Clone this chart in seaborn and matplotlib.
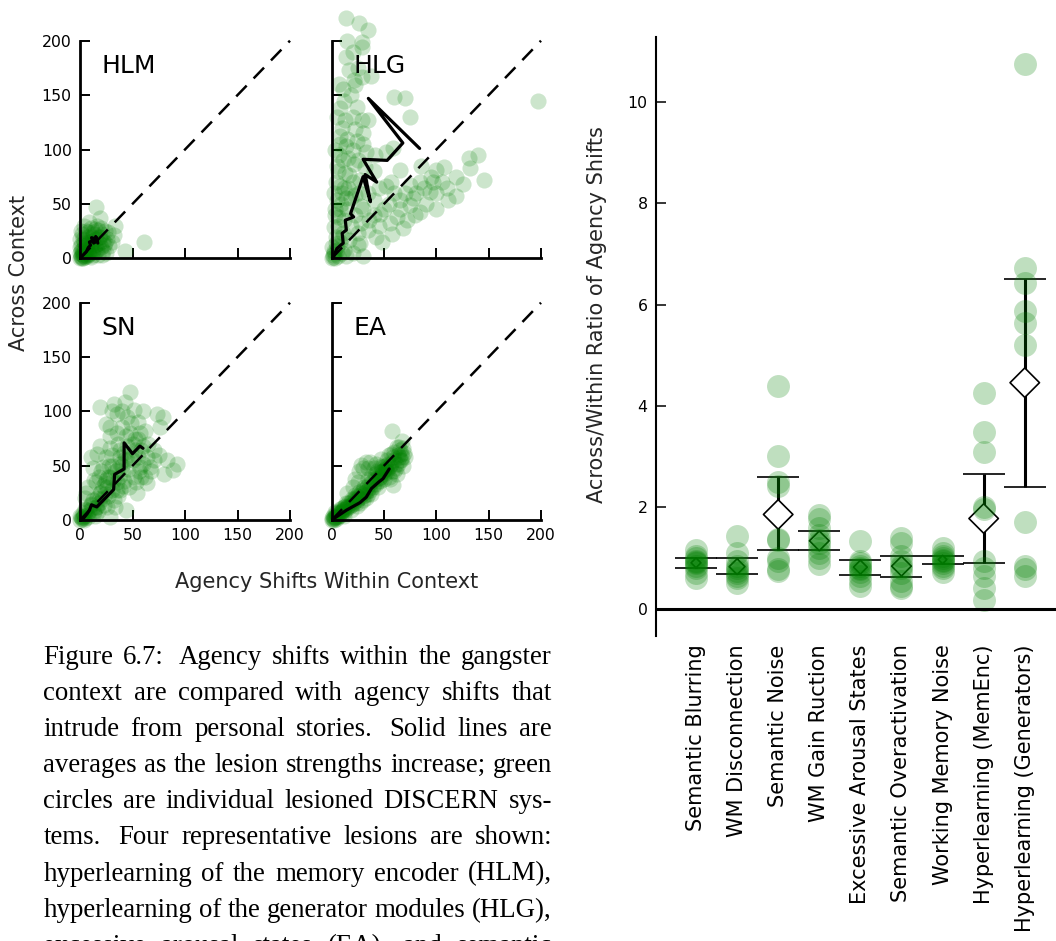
import re
import numpy as np
import pandas as pd
import matplotlib
matplotlib.use("Agg")
import matplotlib.pyplot as plt
import seaborn as sns

# ------------------------------------------------------------------ data
panel_names = ["HLM", "HLG", "SN", "EA"]

hlm_pts = [(0,0),(1,2),(2,0),(0,5),(3,3),(5,1),(2,8),(4,10),(6,6),(8,4),(7,12),(10,8),
           (12,3),(9,15),(11,20),(14,12),(15,18),(13,22),(16,8),(18,14),(20,10),(17,26),
           (22,16),(19,20),(25,5),(24,25),(28,11),(32,21),(33,30),(19,37),(15,47),(43,7),
           (61,15),(3,18),(6,25),(1,12),(10,28),(12,24),(5,14),(8,20),(14,6),(4,30),(2,22),
           (20,28),(26,18),(0,10),(3,0),(7,2),(1,7),(10,1),(21,3),(16,30),(9,33),(23,12),(30,15),
           (1,1),(2,4),(4,2),(3,6),(6,3),(5,8),(8,6),(7,9),(9,4),(11,6),(4,15),(6,12),(10,11),
           (13,9),(12,14),(16,13),(18,20),(8,24),(14,27),(21,22),(24,14),(27,24),(22,7),(17,3),
           (0,18),(1,25),(5,20),(11,16)]
hlm_mean = [(0,0),(3,3),(6,6),(8,10),(10,12),(9,15),(12,16),(11,19),(14,18),(13,14),
            (16,16),(15,20),(17,14)]

hlg_pts = [(14,221),(26,216),(35,210),(29,199),(29,194),(14,185),(17,173),(29,167),(38,168),
           (21,164),(11,156),(22,159),(60,148),(70,147),(197,145),(75,130),(8,138),(24,139),
           (13,127),(29,127),(35,127),(22,119),(30,115),(8,112),(14,103),(59,101),(52,98),
           (41,95),(11,90),(21,87),(32,84),(13,78),(17,77),(27,72),(65,81),(57,70),(75,67),
           (84,70),(100,81),(107,84),(131,92),(132,83),(119,75),(146,72),(97,70),(94,61),
           (111,54),(119,57),(81,60),(65,54),(75,49),(84,43),(52,66),(62,38),(72,35),(56,32),
           (46,41),(40,54),(35,26),(25,23),(8,66),(5,54),(6,38),(2,29),(11,23),(17,17),(27,14),
           (2,5),(6,2),(14,2),(30,2),(5,11),(0,0),(3,0),(1,3),(5,8),(8,15),(10,20),(12,35),
           (15,45),(18,55),(10,60),(20,100),(25,90),(15,110),(30,105),(20,130),(5,85),(40,40),
           (45,30),(50,45),(35,60),(60,60),(70,60),(90,50),(100,60),(110,65),(85,85),(3,45),
           (9,50),(16,65),(22,58),(28,48),(4,20),(12,8),(20,5),(0,10),(7,95),
           (2,60),(4,70),(6,80),(3,100),(8,105),(10,120),(5,130),(12,145),(7,160),(18,150),
           (25,175),(15,200),(20,190),(3,40),(8,45),(14,55),(20,70),(26,60),(30,45),(36,35),
           (42,20),(48,15),(25,12),(18,30),(10,5),(4,14),(1,1),(2,7),(6,30),(12,65),(16,92),
           (24,108),(33,98),(40,80),(45,65),(55,50),(65,45),(78,55),(88,65),(95,75),(105,70),
           (125,68),(140,95),(100,45),(80,40),(58,22),(68,28),(22,40),(28,32)]
hlg_mean = [(0,0),(2,2),(5,9),(11,14),(10,23),(14,26),(13,35),(21,38),(18,41),(30,75),
            (37,52),(32,77),(43,70),(30,91),(53,90),(68,106),(35,147),(84,101)]

sn_pts = [(48,118),(19,104),(32,107),(43,109),(51,101),(35,98),(29,86),(40,86),(49,89),(57,80),
          (73,98),(79,95),(76,86),(19,68),(10,58),(16,61),(29,66),(38,64),(49,61),(60,68),
          (70,64),(83,55),(89,46),(92,52),(67,49),(57,49),(51,40),(64,34),(54,25),(41,31),
          (25,37),(13,37),(6,25),(19,25),(32,18),(44,9),(29,3),(13,6),(3,3),(0,0),(2,2),
          (35,46),(22,49),(38,58),(25,58),(44,77),(29,77),(64,58),(16,12),(10,15),(22,31),
          (35,28),(41,43),(29,40),(2,1),(1,3),(4,4),(5,2),(3,6),(7,5),(6,9),(9,8),(11,11),
          (13,8),(10,14),(15,12),(18,16),(16,20),(21,19),(24,24),(20,26),(26,30),(30,28),
          (35,35),(27,40),(33,45),(38,52),(45,55),(42,62),(50,70),(55,75),(48,80),(36,70),
          (30,60),(58,40),(0,4),(4,0),
          (5,10),(8,3),(12,18),(14,4),(17,8),(19,20),(23,14),(24,34),(27,22),(28,50),(31,36),
          (33,12),(36,22),(37,40),(40,50),(42,36),(43,56),(46,47),(47,30),(50,55),(52,64),
          (53,35),(55,58),(56,45),(60,52),(62,40),(65,70),(68,45),(70,55),(75,60),(80,42),
          (45,95),(40,100),(30,100),(25,88),(55,90),(60,100),(62,82),(35,80),(20,45),(15,35),
          (12,48),(8,30),(5,20),(18,40),(30,50),(45,68),(52,75),(58,64),(38,28),(26,12)]
sn_mean = [(0,0),(2,0),(7,6),(9,9),(11,14),(16,12),(19,15),(25,21),(32,28),(33,42),(42,47),
           (42,71),(50,61),(57,68),(60,66)]

ea_pts = [(0,0),(1,1),(2,0),(0,2),(3,3),(1,4),(4,1),(5,5),(6,3),(3,7),(8,6),(8,10),(10,8),
          (11,9),(12,12),(14,10),(14,16),(16,13),(17,12),(18,17),(20,15),(20,18),(22,20),
          (24,18),(24,22),(26,20),(27,16),(28,25),(30,22),(30,28),(32,26),(33,20),(34,30),
          (35,24),(36,33),(37,28),(38,35),(39,30),(40,38),(42,33),(43,45),(44,36),(46,40),
          (46,36),(47,50),(48,42),(50,46),(50,38),(52,48),(53,44),(54,52),(55,40),(56,50),
          (57,61),(58,45),(58,82),(59,32),(60,55),(61,48),(62,42),(62,67),(63,52),(64,58),
          (65,64),(66,55),(67,73),(68,50),(70,58),(28,51),(33,53),(37,53),(47,56),(40,48),
          (20,30),(15,25),(25,35),(2,2),(4,3),(6,6),(9,5),(12,7),
          (2,3),(4,6),(6,4),(7,8),(9,7),(10,11),(12,10),(13,13),(15,12),(16,16),(18,14),
          (19,19),(21,17),(22,23),(23,16),(25,21),(26,26),(29,24),(31,30),(32,23),(34,27),
          (35,38),(36,29),(38,40),(40,33),(41,42),(42,38),(44,44),(45,39),(47,44),(48,49),
          (49,45),(51,50),(52,45),(53,55),(54,48),(55,60),(57,52),(59,58),(60,63),(61,52),
          (63,60),(64,67),(65,55),(66,61),(67,58),(68,66),(69,62),(60,45),(56,38),(50,42),
          (44,30),(38,24),(30,18),(24,13),(18,9),(12,4),(22,38),(26,45),(30,48),(42,52),(35,48)]
ea_mean = [(0,0),(14,9),(27,16),(33,21),(38,29),(45,35),(49,38),(55,47)]

axis_ticks = [0, 50, 100, 150, 200]
x_label = "Agency Shifts Within Context"
y_label = "Across Context"

lesions = ["Semantic Blurring", "WM Disconnection", "Semantic Noise", "WM Gain Ruction",
           "Excessive Arousal States", "Semantic Overactivation", "Working Memory Noise",
           "Hyperlearning (MemEnc)", "Hyperlearning (Generators)"]
sb_ratio = [0.6, 0.7, 0.8, 0.85, 0.9, 0.92, 0.95, 1.0, 1.05, 1.15]
wmd_ratio = [1.43, 1.1, 0.95, 0.85, 0.8, 0.75, 0.7, 0.65, 0.6, 0.5]
sn_ratio = [4.4, 3.02, 2.5, 2.42, 1.38, 1.35, 1.0, 0.95, 0.78, 0.75]
wmg_ratio = [1.85, 1.78, 1.6, 1.45, 1.35, 1.3, 1.2, 1.1, 1.0, 0.88]
eas_ratio = [1.33, 0.95, 0.9, 0.85, 0.8, 0.78, 0.72, 0.65, 0.55, 0.45]
so_ratio = [1.4, 1.3, 1.05, 0.95, 0.85, 0.8, 0.7, 0.55, 0.45, 0.4]
wmn_ratio = [1.2, 1.1, 1.05, 1.0, 0.97, 0.95, 0.9, 0.85, 0.8, 0.72]
hlmem_ratio = [4.25, 3.48, 3.09, 2.01, 1.97, 0.95, 0.8, 0.65, 0.4, 0.17]
hlgen_ratio = [10.75, 6.72, 6.42, 5.88, 5.63, 5.2, 1.72, 0.85, 0.78, 0.65]
ratio_mean = [0.905, 0.83, 1.86, 1.34, 0.82, 0.84, 0.97, 1.78, 4.46]
ratio_low = [0.807, 0.68, 1.15, 1.15, 0.67, 0.63, 0.88, 0.91, 2.41]
ratio_high = [1.004, 1.00, 2.60, 1.54, 0.96, 1.04, 1.04, 2.65, 6.50]
ratio_ticks = [0, 2, 4, 6, 8, 10]
ratio_label = "Across/Within Ratio of Agency Shifts"

caption_lines = [
    "Figure 6.7:  Agency shifts within the gangster",
    "context are compared with agency shifts that",
    "intrude from personal stories.  Solid lines are",
    "averages as the lesion strengths increase; green",
    "circles are individual lesioned DISCERN sys-",
    "tems.  Four representative lesions are shown:",
    "hyperlearning of the memory encoder (HLM),",
    "hyperlearning of the generator modules (HLG),",
    "excessive arousal states (EA), and semantic",
]

# ------------------------------------------------------------------ style
sns.set_theme(style="ticks")
plt.rcParams["font.family"] = ["DejaVu Sans"]
W, H = 1056, 941
fig = plt.figure(figsize=(W / 100, H / 100), dpi=100)
fig.patch.set_facecolor("white")

GREEN = "#008000"
diamond_ms = [5, 8, 15, 10, 7, 10, 4.3, 15, 15]


def px_axes(l, t, r, b):
    return fig.add_axes([l / W, 1 - b / H, (r - l) / W, (b - t) / H])


panel_boxes = [(80, 40.7, 290, 258.3), (331.7, 40.7, 541, 258.3),
               (80, 302.7, 290, 520), (331.7, 302.7, 541, 520)]
panel_pts = [hlm_pts, hlg_pts, sn_pts, ea_pts]
panel_mean = [hlm_mean, hlg_mean, sn_mean, ea_mean]

for i, (box, pts, mean, name) in enumerate(zip(panel_boxes, panel_pts, panel_mean, panel_names)):
    ax = px_axes(*box)
    ax.set_facecolor("white")
    px, py = zip(*pts)
    sns.scatterplot(x=list(px), y=list(py), ax=ax, color=GREEN, alpha=0.2, s=135,
                    linewidth=0, clip_on=False, zorder=2, legend=False)
    ax.plot(axis_ticks[::len(axis_ticks) - 1], axis_ticks[::len(axis_ticks) - 1],
            color="black", lw=1.8, dashes=(6, 4), zorder=3, clip_on=False)
    mx, my = zip(*mean)
    sns.lineplot(x=list(mx), y=list(my), ax=ax, sort=False, estimator=None,
                 color="black", lw=2.3, zorder=4)
    ax.set_xlim(0, 200)
    ax.set_ylim(0, 200)
    ax.set_xticks(axis_ticks)
    ax.set_yticks(axis_ticks)
    for s in ["top", "right"]:
        ax.spines[s].set_visible(False)
    for s in ["left", "bottom"]:
        ax.spines[s].set_linewidth(2.0)
        ax.spines[s].set_color("black")
    ax.tick_params(direction="in", length=7.5, width=1.4, color="black",
                   labelsize=11.3, labelcolor="black", pad=6)
    if i in (1, 3):
        ax.tick_params(labelleft=False)
    if i in (0, 1):
        ax.tick_params(labelbottom=False)
    ax.set_xlabel("")
    ax.set_ylabel("")
    ax.text(20.5, 170.5, name, fontsize=18, ha="left", va="baseline", color="black")

fig.text(326.5 / W, 1 - 588 / H, x_label, fontsize=15, ha="center", va="baseline")
fig.text(19 / W, 1 - 272.5 / H, y_label, fontsize=15, ha="center", va="center", rotation=90)

# ------------------------------------------------------------------ right panel
axr = px_axes(656, 36.5, 1056, 636)
axr.set_facecolor("white")
groups = [sb_ratio, wmd_ratio, sn_ratio, wmg_ratio, eas_ratio, so_ratio, wmn_ratio,
          hlmem_ratio, hlgen_ratio]
df = pd.DataFrame({"lesion": [l for l, g in zip(lesions, groups) for _ in g],
                   "ratio": [v for g in groups for v in g]})
sns.stripplot(data=df, x="lesion", y="ratio", order=lesions, jitter=False, color=GREEN,
              alpha=0.25, size=16.5, linewidth=0, zorder=4, ax=axr)
pos = np.arange(len(lesions))
mean = np.array(ratio_mean)
axr.errorbar(pos, mean, yerr=[mean - np.array(ratio_low), np.array(ratio_high) - mean],
             fmt="none", ecolor="black", elinewidth=2.2, capsize=14.8, capthick=1.2,
             zorder=2)
axr.scatter(pos, mean, s=[m ** 2 for m in diamond_ms], marker="D", facecolor="white",
            edgecolor="black", linewidths=1.2, zorder=3)
axr.axhline(0, color="black", lw=2.2, zorder=5)
axr.set_xlim(-0.973, 8.76)
axr.set_ylim(-0.538, 11.29)
axr.set_yticks(ratio_ticks)
axr.set_xticks(pos)
axr.set_xticklabels(lesions, rotation=90, fontsize=15, va="top", ha="center")
for s in ["top", "right", "bottom"]:
    axr.spines[s].set_visible(False)
axr.spines["left"].set_linewidth(1.5)
axr.spines["left"].set_color("black")
axr.tick_params(axis="y", direction="in", length=7.5, width=1.1, color="black",
                labelsize=11.3, labelcolor="black", pad=6)
axr.tick_params(axis="x", length=0, pad=6.0, labelcolor="black")
axr.set_xlabel("")
axr.set_ylabel("")
fig.text(597 / W, 1 - 315 / H, ratio_label, fontsize=15, ha="center", va="center",
         rotation=90)

# ------------------------------------------------------------------ caption (justified)
fig.canvas.draw()
renderer = fig.canvas.get_renderer()
cap_font = dict(fontsize=19.4, family=["Liberation Serif", "DejaVu Serif"], color="black")
left_px, right_px, base0, spacing = 43.3, 552.0, 664.0, 36.1
for n, line in enumerate(caption_lines):
    parts = re.split(r"( +)", line)
    words = parts[0::2]
    gaps = [1.0 if len(g) == 1 else 1.5 for g in parts[1::2]]
    widths = []
    for w in words:
        t = fig.text(0, 0, w, **cap_font)
        widths.append(t.get_window_extent(renderer).width)
        t.remove()
    unit = ((right_px - left_px) - sum(widths)) / sum(gaps)
    x = left_px
    yb = 1 - (base0 + n * spacing) / H
    for k, w in enumerate(words):
        fig.text(x / W, yb, w, ha="left", va="baseline", **cap_font)
        x += widths[k] + (unit * gaps[k] if k < len(gaps) else 0)

fig.savefig("out.png", dpi=100, facecolor="white")
